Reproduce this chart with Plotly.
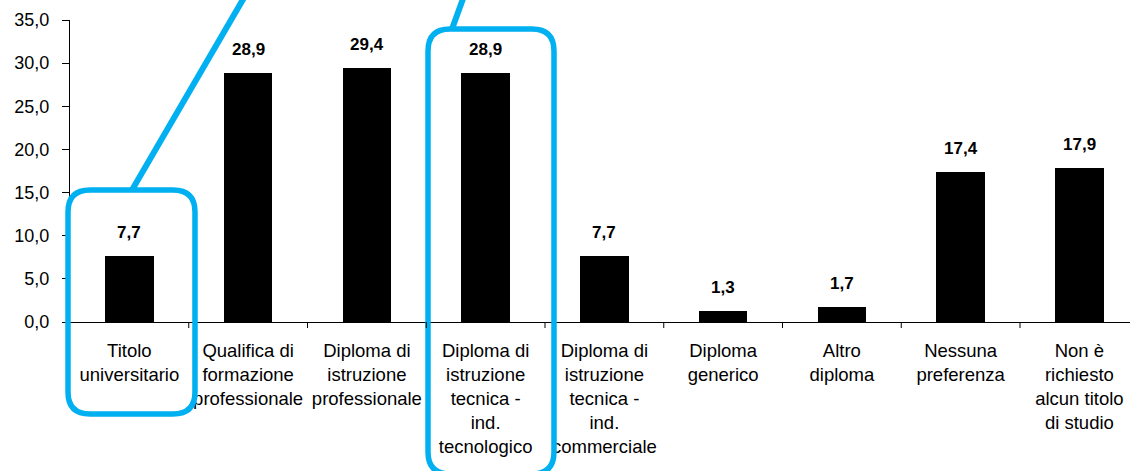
import plotly.graph_objects as go

categories = [
    "Titolo<br>universitario",
    "Qualifica di<br>formazione<br>professionale",
    "Diploma di<br>istruzione<br>professionale",
    "Diploma di<br>istruzione<br>tecnica -<br>ind.<br>tecnologico",
    "Diploma di<br>istruzione<br>tecnica -<br>ind.<br>commerciale",
    "Diploma<br>generico",
    "Altro<br>diploma",
    "Nessuna<br>preferenza",
    "Non è<br>richiesto<br>alcun titolo<br>di studio",
]
values = [7.7, 28.9, 29.4, 28.9, 7.7, 1.3, 1.7, 17.4, 17.9]
y_ticks = [0, 5, 10, 15, 20, 25, 30, 35]
y_tick_labels = ["0,0", "5,0", "10,0", "15,0", "20,0", "25,0", "30,0", "35,0"]
value_labels = [f"{v:.1f}".replace(".", ",") for v in values]

W, H = 1130, 471
ML, MR, MT, MB = 70, 0, 20, 149
PW = W - ML - MR
PH = H - MT - MB
BAND = 118.75
FONT = "Liberation Sans, Arial, sans-serif"
BLUE = "#00B0F0"

idx = list(range(len(categories)))

fig = go.Figure()
fig.add_trace(go.Bar(
    x=idx, y=values, marker=dict(color="black", line=dict(width=0)),
    width=0.41, hoverinfo="skip",
))

annotations = []
for i, (v, t) in enumerate(zip(values, value_labels)):
    annotations.append(dict(
        x=i, y=v, xref="x", yref="y", text=f"<b>{t}</b>", showarrow=False,
        yanchor="bottom", yshift=12, font=dict(family=FONT, size=17, color="black"),
    ))


def px(x):
    return (x - ML) / PW


def py(y):
    return (MT + PH - y) / PH


def rounded_rect(x0, y0, x1, y1, r):
    pts = [
        ("M", [(x0 + r, y0)]),
        ("L", [(x1 - r, y0)]),
        ("Q", [(x1, y0), (x1, y0 + r)]),
        ("L", [(x1, y1 - r)]),
        ("Q", [(x1, y1), (x1 - r, y1)]),
        ("L", [(x0 + r, y1)]),
        ("Q", [(x0, y1), (x0, y1 - r)]),
        ("L", [(x0, y0 + r)]),
        ("Q", [(x0, y0), (x0 + r, y0)]),
    ]
    s = ""
    for cmd, ps in pts:
        s += cmd + " " + " ".join(f"{px(a):.5f},{py(b):.5f}" for a, b in ps) + " "
    return s + "Z"


shapes = [
    dict(type="path", xref="paper", yref="paper",
         path=rounded_rect(68, 190, 195, 414, 22),
         line=dict(color=BLUE, width=5.5), fillcolor="rgba(0,0,0,0)", layer="above"),
    dict(type="path", xref="paper", yref="paper",
         path=rounded_rect(428, 29, 554, 474, 22),
         line=dict(color=BLUE, width=5.5), fillcolor="rgba(0,0,0,0)", layer="above"),
    dict(type="line", xref="paper", yref="paper",
         x0=px(132), y0=py(190), x1=px(245), y1=py(-4),
         line=dict(color=BLUE, width=6), layer="above"),
    dict(type="line", xref="paper", yref="paper",
         x0=px(452), y0=py(29), x1=px(464), y1=py(-4),
         line=dict(color=BLUE, width=6), layer="above"),
]

fig.update_layout(
    width=W, height=H,
    margin=dict(l=ML, r=MR, t=MT, b=MB, pad=0),
    paper_bgcolor="white", plot_bgcolor="white",
    showlegend=False, bargap=0,
    font=dict(family=FONT, color="black"),
    annotations=annotations, shapes=shapes,
    xaxis=dict(
        tickmode="array", tickvals=idx, ticktext=categories,
        range=[-0.5, -0.5 + PW / BAND],
        showline=True, linecolor="black", linewidth=1,
        ticks="", showgrid=False, zeroline=False,
        ticklabelstandoff=12,
        tickfont=dict(family=FONT, size=18.5, color="black"),
    ),
    yaxis=dict(
        range=[0, 35], tickmode="array", tickvals=y_ticks, ticktext=y_tick_labels,
        showline=True, linecolor="black", linewidth=1,
        ticks="outside", ticklen=7, tickcolor="black", tickwidth=1,
        showgrid=False, zeroline=False,
        ticklabelstandoff=9,
        tickfont=dict(family=FONT, size=18, color="black"),
    ),
)

# category boundary tick marks on the x axis
for k in range(1, len(categories)):
    fig.add_shape(type="line", xref="x", yref="paper", x0=k - 0.5, x1=k - 0.5,
                  y0=0, y1=-6 / PH, line=dict(color="black", width=1))

fig.write_html(
    "out.html",
    config={"displayModeBar": False},
    post_script="document.body.style.margin='0';document.body.style.overflow='hidden';",
)
